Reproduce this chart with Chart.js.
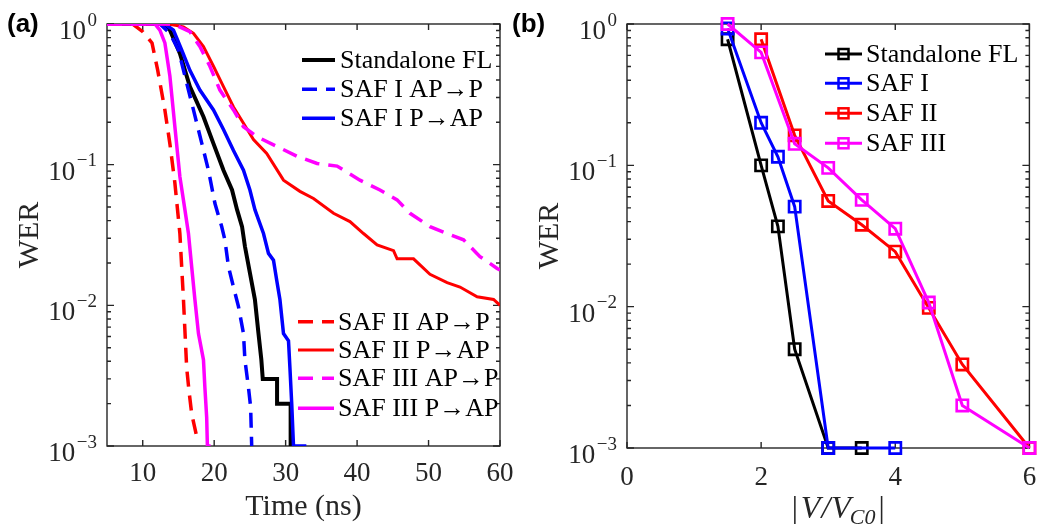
<!DOCTYPE html>
<html>
<head>
<meta charset="UTF-8">
<title>WER</title>
<script src="https://cdn.jsdelivr.net/npm/chart.js"></script>
<style>
body{margin:0; background:#fff; width:1040px; height:524px; overflow:hidden; position:relative;}
canvas{position:absolute; top:0;}
#ca{left:0;}
#cb{left:520px;}
.tag{position:absolute; font:bold 26px "Liberation Sans", Arial, sans-serif; color:#000;}
</style>
</head>
<body>
<canvas id="ca" width="520" height="524"></canvas>
<canvas id="cb" width="520" height="524"></canvas>
<div class="tag" style="left:7px;top:8px">(a)</div>
<div class="tag" style="left:512px;top:8px">(b)</div>
<script>
// ---- (a) WER vs pulse time ----
var fl_t   = [5, 12.6, 13.2, 13.8, 15.2, 16.6, 18.5, 19.9, 21.3, 22.5, 23.2, 23.9, 24.3, 25.0, 25.7, 26.2, 26.6, 26.8, 28.8, 28.8, 30.7, 30.7, 30.9];
var fl_wer = [1, 1, 0.97, 0.906, 0.617, 0.359, 0.219, 0.141, 0.0912, 0.0661, 0.0479, 0.0363, 0.0263, 0.017, 0.011, 0.0063, 0.0041, 0.003, 0.003, 0.002, 0.002, 0.001, 0.001];

var saf1ap_t   = [5, 12.4, 13.8, 15.0, 15.9, 17.1, 18.25, 19.2, 20.1, 21.05, 21.5, 22.0, 22.7, 23.4, 24.1, 24.3, 24.8, 25.1, 25.25];
var saf1ap_wer = [1, 1, 0.859, 0.653, 0.427, 0.245, 0.143, 0.0912, 0.0531, 0.0363, 0.0292, 0.0188, 0.0135, 0.0098, 0.0063, 0.0041, 0.0026, 0.0019, 0.001];

var saf1pa_t   = [5, 13.1, 14.3, 15.45, 16.6, 18.0, 19.9, 21.3, 22.7, 24.1, 25.0, 25.7, 26.2, 26.9, 27.6, 28.3, 28.75, 29.2, 29.7, 30.4, 30.6, 30.85, 31.1, 32.9];
var saf1pa_wer = [1, 1, 0.906, 0.653, 0.468, 0.339, 0.245, 0.178, 0.126, 0.0912, 0.0661, 0.0479, 0.0407, 0.0324, 0.0234, 0.0209, 0.0151, 0.011, 0.0063, 0.0056, 0.0036, 0.002, 0.001, 0.001];

var saf2ap_t   = [5, 8.6, 10, 11.3, 12.1, 13.1, 13.8, 14.5, 15.2, 15.7, 16.15, 16.5, 16.85, 17.5, 17.9];
var saf2ap_wer = [1, 1, 0.881, 0.733, 0.468, 0.245, 0.141, 0.0741, 0.0324, 0.011, 0.0036, 0.0024, 0.0017, 0.0012, 0.0012];

var saf2pa_t   = [5, 12.5, 14.0, 15.7, 17.1, 18.5, 19.9, 21.3, 22.7, 24.1, 25.5, 27.35, 29.7, 32.0, 33.9, 36.7, 39.0, 40.9, 42.8, 45.1, 45.6, 47.9, 50.2, 52.6, 54.4, 56.8, 59.1, 60];
var saf2pa_wer = [1, 1, 0.99, 0.955, 0.859, 0.692, 0.501, 0.359, 0.257, 0.197, 0.151, 0.12, 0.0776, 0.0646, 0.0575, 0.0451, 0.0394, 0.0324, 0.0269, 0.0245, 0.0214, 0.0214, 0.0166, 0.0145, 0.0135, 0.0115, 0.011, 0.01];

var saf3ap_t   = [5, 14.3, 16.6, 18.0, 19.4, 20.8, 22.7, 24.1, 26.0, 28.75, 31.55, 34.4, 37.2, 40.4, 43.2, 45.6, 47.4, 50.2, 52.6, 54.9, 57.2, 59.6, 60];
var saf3ap_wer = [1, 1, 0.881, 0.692, 0.501, 0.339, 0.245, 0.186, 0.158, 0.135, 0.115, 0.102, 0.0977, 0.0776, 0.0661, 0.0562, 0.0451, 0.0363, 0.0324, 0.0292, 0.0222, 0.0183, 0.0178];

var saf3pa_t   = [5, 11.7, 12.4, 13.1, 13.8, 14.5, 15.2, 15.9, 16.4, 16.85, 17.3, 17.8, 18.5, 18.7, 18.95, 19.05, 19.5];
var saf3pa_wer = [1, 1, 0.906, 0.733, 0.427, 0.186, 0.0822, 0.0479, 0.0324, 0.0188, 0.011, 0.0063, 0.0041, 0.0026, 0.0016, 0.001, 0.001];

// ---- (b) WER vs |V/Vc0| ----
var v_fl   = [1.5, 2, 2.25, 2.5, 3, 3.5];
var wer_fl = [0.78, 0.1, 0.037, 0.005, 0.001, 0.001];
var v_saf1   = [1.5, 2, 2.25, 2.5, 3, 4];
var wer_saf1 = [0.93, 0.2, 0.115, 0.051, 0.001, 0.001];
var v_saf2   = [2, 2.5, 3, 3.5, 4, 4.5, 5, 6];
var wer_saf2 = [0.78, 0.163, 0.056, 0.038, 0.0245, 0.0098, 0.0039, 0.001];
var v_saf3   = [1.5, 2, 2.5, 3, 3.5, 4, 4.5, 5, 6];
var wer_saf3 = [1.0, 0.63, 0.142, 0.096, 0.057, 0.0356, 0.0107, 0.002, 0.001];

// ticks
var xTicksA = [10, 20, 30, 40, 50, 60];
var xTicksB = [0, 2, 4, 6];
var yTickVals = [1, 0.1, 0.01, 0.001];
var yTickExp  = ['0', '\u22121', '\u22122', '\u22123'];

var INK = '#262626';
var SERIF = '"Liberation Serif", "Times New Roman", serif';

function pts(xs, ys) {
  return xs.map(function(v, i){ return {x: v, y: ys[i]}; });
}

function axesPlugin(cfg) {
  return {
    id: 'matlabAxes',
    beforeDatasetsDraw: function(chart) {
      var ctx = chart.ctx, a = chart.chartArea, xs = chart.scales.x, ys = chart.scales.y;
      ctx.save();
      ctx.strokeStyle = INK;
      ctx.lineWidth = 1.4;
      ctx.strokeRect(a.left, a.top, a.right - a.left, a.bottom - a.top);
      ctx.beginPath();
      cfg.xTicks.forEach(function(v){
        var px = xs.getPixelForValue(v);
        ctx.moveTo(px, a.bottom); ctx.lineTo(px, a.bottom - 6);
        ctx.moveTo(px, a.top); ctx.lineTo(px, a.top + 6);
      });
      for (var e = -3; e <= 0; e++) {
        for (var m = 1; m <= 9; m++) {
          if (e === 0 && m > 1) break;
          var py = ys.getPixelForValue(m * Math.pow(10, e));
          var len = m === 1 ? 7 : 4;
          ctx.moveTo(a.left, py); ctx.lineTo(a.left + len, py);
          ctx.moveTo(a.right, py); ctx.lineTo(a.right - len, py);
        }
      }
      ctx.stroke();

      // tick labels
      ctx.fillStyle = INK;
      ctx.textAlign = 'center';
      ctx.textBaseline = 'alphabetic';
      ctx.font = '27px ' + SERIF;
      cfg.xTicks.forEach(function(v){
        ctx.fillText(String(v), xs.getPixelForValue(v), a.bottom + cfg.xLabelDy);
      });
      ctx.textAlign = 'right';
      yTickVals.forEach(function(v, i){
        var py = ys.getPixelForValue(v);
        var xr = a.left - 10;
        ctx.font = '19px ' + SERIF;
        var w = ctx.measureText(yTickExp[i]).width;
        ctx.fillText(yTickExp[i], xr, py + 1.5);
        ctx.font = '27px ' + SERIF;
        ctx.fillText('10', xr - w - 1.5, py + 15);
      });

      // y title
      ctx.save();
      ctx.translate(a.left - 77, (a.top + a.bottom) / 2);
      ctx.rotate(-Math.PI / 2);
      ctx.font = '30px ' + SERIF;
      ctx.textAlign = 'center';
      ctx.textBaseline = 'middle';
      ctx.fillText('WER', 0, 0);
      ctx.restore();

      cfg.xTitle(ctx, (a.left + a.right) / 2);
      ctx.restore();
    },
    afterDraw: function(chart) {
      var ctx = chart.ctx;
      ctx.save();
      cfg.legend.forEach(function(g){
        g.items.forEach(function(idx, k){
          var ds = chart.data.datasets[idx];
          var y = g.ys[k];
          ctx.strokeStyle = ds.borderColor;
          ctx.lineWidth = ds.borderWidth;
          ctx.setLineDash(ds.borderDash || []);
          ctx.beginPath();
          ctx.moveTo(g.x0, y); ctx.lineTo(g.x1, y);
          ctx.stroke();
          ctx.setLineDash([]);
          if (g.marker) {
            var mx = (g.x0 + g.x1) / 2, s = 5;
            ctx.lineWidth = 2.5;
            ctx.strokeRect(mx - s, y - s, 2 * s, 2 * s);
          }
          ctx.fillStyle = '#000';
          ctx.font = '26px ' + SERIF;
          ctx.textAlign = 'left';
          ctx.textBaseline = 'middle';
          ctx.fillText(ds.label, g.xt, y + 1);
        });
      });
      ctx.restore();
    }
  };
}

function baseOptions(pad, xmin, xmax) {
  return {
    responsive: false,
    animation: false,
    devicePixelRatio: 1,
    layout: {padding: pad},
    plugins: {legend: {display: false}, tooltip: {enabled: false}},
    scales: {
      x: {type: 'linear', min: xmin, max: xmax, display: false},
      y: {type: 'logarithmic', min: 0.001, max: 1, display: false}
    },
    elements: {line: {tension: 0}}
  };
}

function lineSet(label, xs, ys, color, dash, width, order) {
  return {
    label: label, data: pts(xs, ys), borderColor: color, backgroundColor: color,
    borderWidth: width, borderDash: dash, pointRadius: 0, fill: false, order: order
  };
}

var DASH = [15, 9];

new Chart(document.getElementById('ca'), {
  type: 'line',
  data: {
    datasets: [
      lineSet('Standalone FL', fl_t, fl_wer, '#000000', [], 4, 7),
      lineSet('SAF I AP\u2192P', saf1ap_t, saf1ap_wer, '#0000ff', DASH, 3.5, 6),
      lineSet('SAF I P\u2192AP', saf1pa_t, saf1pa_wer, '#0000ff', [], 3.5, 5),
      lineSet('SAF II AP\u2192P', saf2ap_t, saf2ap_wer, '#ff0000', DASH, 3.5, 4),
      lineSet('SAF II P\u2192AP', saf2pa_t, saf2pa_wer, '#ff0000', [], 3, 3),
      lineSet('SAF III AP\u2192P', saf3ap_t, saf3ap_wer, '#ff00ff', DASH, 3.5, 2),
      lineSet('SAF III P\u2192AP', saf3pa_t, saf3pa_wer, '#ff00ff', [], 3.5, 1)
    ]
  },
  options: baseOptions({left: 107, right: 20, top: 24, bottom: 78}, 5, 60),
  plugins: [axesPlugin({
    xTicks: xTicksA,
    xLabelDy: 35,
    xTitle: function(ctx, cx){
      ctx.font = '30px ' + SERIF;
      ctx.textAlign = 'center';
      ctx.textBaseline = 'alphabetic';
      ctx.fillStyle = INK;
      ctx.fillText('Time (ns)', cx, 515);
    },
    legend: [
      {items: [0, 1, 2], ys: [60, 89.3, 118.3], x0: 302, x1: 335, xt: 340},
      {items: [3, 4, 5, 6], ys: [321.7, 350, 378.3, 408.3], x0: 298, x1: 334, xt: 338}
    ]
  })]
});

function markSet(label, xs, ys, color, order) {
  return {
    label: label, data: pts(xs, ys), borderColor: color, backgroundColor: color,
    borderWidth: 3, pointStyle: 'rect', pointRadius: 8, pointBorderWidth: 2.6,
    pointBackgroundColor: 'rgba(0,0,0,0)', pointBorderColor: color,
    fill: false, clip: false, order: order
  };
}

new Chart(document.getElementById('cb'), {
  type: 'line',
  data: {
    datasets: [
      markSet('Standalone FL', v_fl, wer_fl, '#000000', 4),
      markSet('SAF I', v_saf1, wer_saf1, '#0000ff', 3),
      markSet('SAF II', v_saf2, wer_saf2, '#ff0000', 2),
      markSet('SAF III', v_saf3, wer_saf3, '#ff00ff', 1)
    ]
  },
  options: baseOptions({left: 107, right: 3, top: 24, bottom: 76}, 0, 6),
  plugins: [axesPlugin({
    xTicks: xTicksB,
    xLabelDy: 37,
    xTitle: function(ctx, cx){
      var big = '31px ' + SERIF, bigI = 'italic 32px ' + SERIF, sub = 'italic 22px ' + SERIF;
      var parts = [
        {t: '|', f: big, dy: 0, pad: 3},
        {t: 'V', f: bigI, dy: 0, pad: 1},
        {t: '/', f: bigI, dy: 0, pad: 1},
        {t: 'V', f: bigI, dy: 0, pad: -1},
        {t: 'C0', f: sub, dy: 6, pad: 3},
        {t: '|', f: big, dy: 0, pad: 0}
      ];
      var total = 0;
      parts.forEach(function(p){ ctx.font = p.f; p.w = ctx.measureText(p.t).width; total += p.w + p.pad; });
      var x = cx + 10 - total / 2;
      ctx.fillStyle = INK;
      ctx.textAlign = 'left';
      ctx.textBaseline = 'alphabetic';
      parts.forEach(function(p){
        ctx.font = p.f;
        ctx.fillText(p.t, x, 518 + p.dy);
        x += p.w + p.pad;
      });
    },
    legend: [
      {items: [0, 1, 2, 3], ys: [54, 83.3, 113.3, 143.3], x0: 305, x1: 342, xt: 346, marker: true}
    ]
  })]
});
</script>
</body>
</html>
